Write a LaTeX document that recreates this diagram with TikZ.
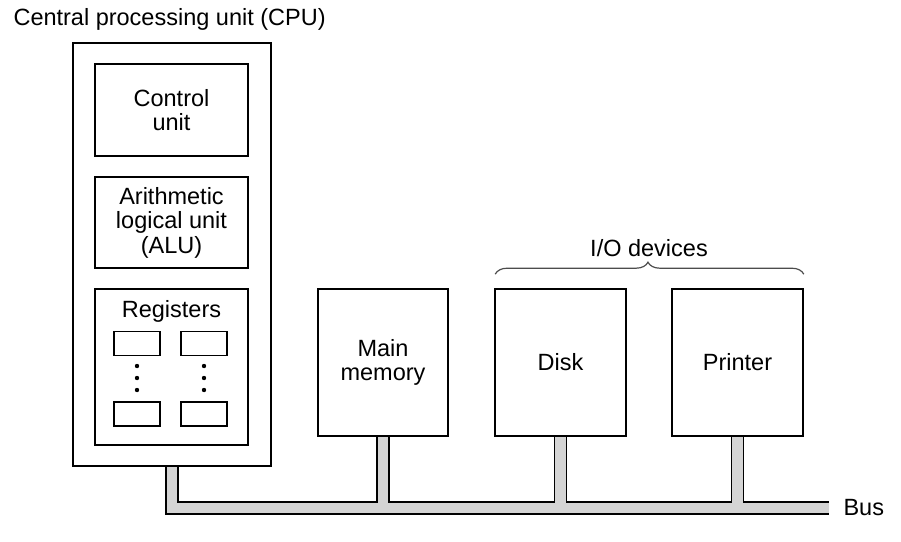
\documentclass[tikz,border=0pt]{standalone}
\usepackage{fontspec}
\setmainfont{Liberation Sans}
\usetikzlibrary{calc,decorations.pathreplacing}

\tikzset{
  unit/.style={draw,line width=1.6pt,align=center,inner sep=0pt},
  regbox/.style={draw,line width=1.5pt,minimum width=46,minimum height=24,inner sep=0pt},
  busline/.style={line width=1.6pt},
  busfill/.style={fill=black!17}
}

\begin{document}
\begin{tikzpicture}[x=1pt,y=-1pt,font=\fontsize{23.5}{24.5}\selectfont]
    \useasboundingbox (0,0) rectangle (901,541);
    % CPU and what is inside it
    \node[anchor=west] (cputitle) at (10,19) {Central processing unit (CPU)};
    \node[unit,minimum width=198,minimum height=423] (cpu) at (172,254.5) {};
    \node[unit,minimum width=153,minimum height=92] (ctrl) at (171.5,110) {Control\\unit};
    \node[unit,minimum width=153,minimum height=91] (alu) at (171.5,222.5) {Arithmetic\\logical unit\\(ALU)};
    \node[unit,minimum width=153,minimum height=156] (regs) at (171.5,367) {};
    \node (regtitle) at (171.5,311) {Registers};
    \node[regbox] (r11) at (137,343.5) {};
    \node[regbox] (r12) at (204,343.5) {};
    \node[regbox] (r21) at (137,414) {};
    \node[regbox] (r22) at (204,414) {};
    \foreach \y in {366,378,390} {
        \fill (r11.center |- 0,\y) circle (2.2);
        \fill (r12.center |- 0,\y) circle (2.2);
    }
    % memory and I/O
    \node[unit,minimum width=130,minimum height=147] (mem) at (383,362.5) {Main\\memory};
    \node[unit,minimum width=131,minimum height=147] (disk) at (560.5,362.5) {Disk};
    \node[unit,minimum width=131,minimum height=147] (printer) at (737.5,362.5) {Printer};
    \draw[line width=1.2pt,black!70,decorate,decoration={brace,amplitude=12pt,aspect=0.495}]
        ($(disk.north west)+(1,-14)$) -- ($(printer.north east)+(0,-14)$);
    \node (iolabel) at (649,248) {I/O devices};
    % bus
    \coordinate (busend) at (829,508);
    \node[anchor=west] (buslabel) at (840,508) {Bus};
    \foreach \n in {cpu,mem,disk,printer}
        \fill[busfill] ($(\n.south)+(-6,0)$) rectangle ($(\n.south |- busend)+(6,0)$);
    \fill[busfill] ($(cpu.south |- busend)+(-6,-6)$) rectangle ($(busend)+(0,6)$);
    \draw[busline] ($(cpu.south)+(-6,0)$) |- ($(busend)+(0,6)$);
    \foreach \a/\b in {cpu/mem,mem/disk,disk/printer}
        \draw[busline] ($(\a.south)+(6,0)$) |- ($(\b.south |- busend)+(-6,-6)$) -- ($(\b.south)+(-6,0)$);
    \draw[busline] ($(printer.south)+(6,0)$) |- ($(busend)+(0,-6)$);
\end{tikzpicture}
\end{document}
